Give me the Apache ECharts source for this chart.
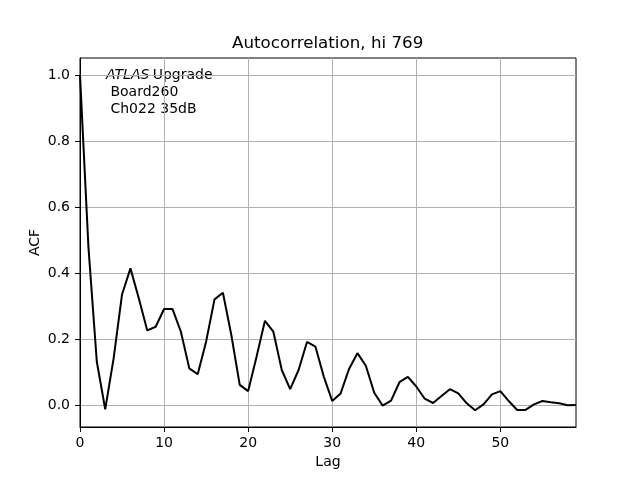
<!DOCTYPE html>
<html>
<head>
<meta charset="utf-8">
<script src="https://cdn.jsdelivr.net/npm/echarts@6/dist/echarts.min.js"></script>
<style>
  html, body { margin: 0; padding: 0; background: #fff; }
  #chart { width: 640px; height: 480px; }
</style>
</head>
<body>
<div id="chart"></div>
<script>
// autocorrelation values, lag 0..59
const lags = Array.from({ length: 60 }, (_, i) => i)
const acf = [
  1.0, 0.48, 0.131, -0.013, 0.141, 0.335, 0.414, 0.323, 0.226, 0.237,
  0.291, 0.291, 0.222, 0.111, 0.093, 0.192, 0.32, 0.34, 0.212, 0.061,
  0.042, 0.146, 0.255, 0.222, 0.106, 0.048, 0.106, 0.191, 0.177, 0.086,
  0.012, 0.035, 0.109, 0.157, 0.119, 0.037, -0.002, 0.013, 0.069, 0.085,
  0.056, 0.019, 0.006, 0.027, 0.048, 0.035, 0.005, -0.016, 0.002, 0.032,
  0.042, 0.012, -0.015, -0.015, 0.002, 0.012, 0.008, 0.005, -0.001, 0.0
]
const xTicks = [0, 10, 20, 30, 40, 50]
const yTicks = [0, 0.2, 0.4, 0.6, 0.8, 1.0]

const font = 'DejaVu Sans'
const chart = echarts.init(document.getElementById('chart'), null, { renderer: 'canvas' })
chart.setOption({
  animation: false,
  title: {
    text: 'Autocorrelation, hi 769',
    left: 227,
    top: 30,
    textStyle: { fontFamily: font, fontSize: 16.7, fontWeight: 'normal', color: '#000' },
  },
  grid: {
    left: 80,
    right: 64,
    top: 58,
    bottom: 53,
    show: true,
    borderColor: '#000',
    borderWidth: 1,
  },
  xAxis: {
    type: 'value',
    min: 0,
    max: 59,
    name: 'Lag',
    nameLocation: 'middle',
    nameGap: 28,
    nameTextStyle: { fontFamily: font, fontSize: 14, color: '#000', verticalAlign: 'top' },
    axisLine: { show: true, onZero: false, lineStyle: { color: '#000', width: 1 } },
    axisTick: { show: true, length: 5, customValues: xTicks, lineStyle: { color: '#000' } },
    axisLabel: { customValues: xTicks, margin: 9, fontFamily: font, fontSize: 14, color: '#000' },
    splitLine: { show: true, lineStyle: { color: '#b0b0b0', width: 1 } },
  },
  yAxis: {
    type: 'value',
    min: -0.0667,
    max: 1.0515,
    name: 'ACF',
    nameLocation: 'middle',
    nameGap: 38,
    nameMoveOverlap: false,
    nameTextStyle: { fontFamily: font, fontSize: 14, color: '#000' },
    axisLine: { show: true, onZero: false, lineStyle: { color: '#000', width: 1 } },
    axisTick: { show: true, length: 5, customValues: yTicks, lineStyle: { color: '#000' } },
    axisLabel: {
      customValues: yTicks,
      margin: 10,
      fontFamily: font,
      fontSize: 14,
      color: '#000',
      formatter: (v) => v.toFixed(1),
    },
    splitLine: { show: true, lineStyle: { color: '#b0b0b0', width: 1 } },
  },
  graphic: [
    {
      type: 'text',
      left: 106,
      top: 68,
      style: {
        text: '{i|ATLAS} {n|Upgrade}\n{n| Board260}\n{n| Ch022 35dB}',
        rich: {
          i: { fontFamily: font, fontSize: 14, fontStyle: 'italic', color: '#000', lineHeight: 17 },
          n: { fontFamily: font, fontSize: 14, color: '#000', lineHeight: 17 },
        },
      },
    },
  ],
  series: [
    {
      type: 'line',
      data: lags.map((l, i) => [l, acf[i]]),
      showSymbol: false,
      lineStyle: { color: '#000', width: 2 },
      clip: true,
    },
  ],
})
</script>
</body>
</html>
